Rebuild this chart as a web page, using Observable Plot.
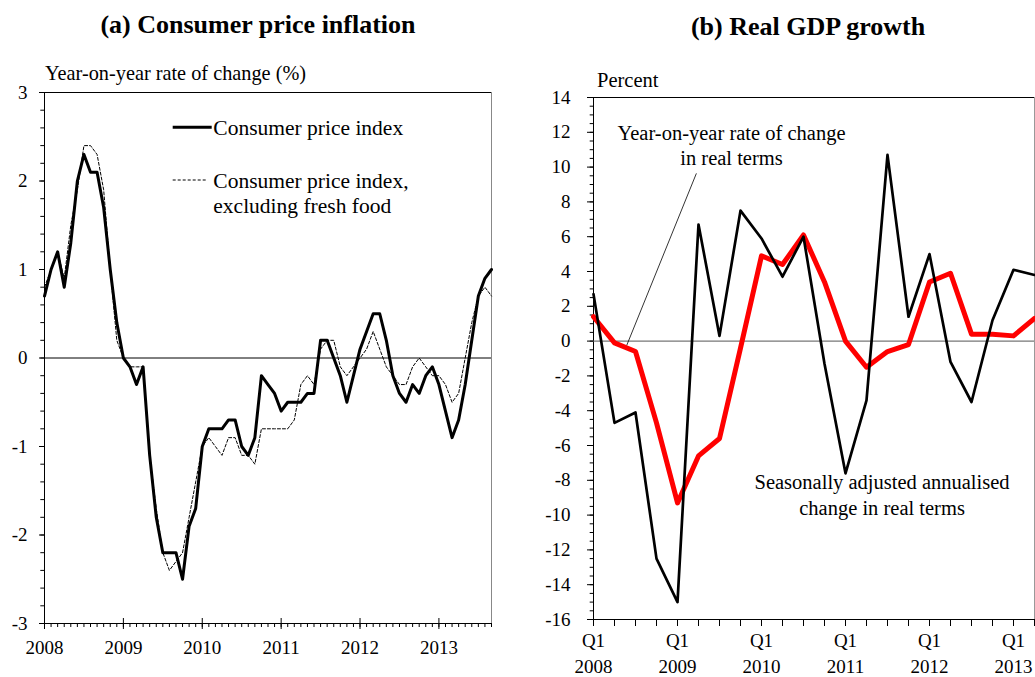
<!DOCTYPE html>
<html>
<head>
<meta charset="utf-8">
<script src="https://cdn.jsdelivr.net/npm/d3@7"></script>
<script src="https://cdn.jsdelivr.net/npm/@observablehq/plot@0.6"></script>
<style>
  body { margin: 0; background: #fff; }
  #wrap { position: relative; width: 1035px; height: 677px; overflow: hidden; background: #fff;
          font-family: "Liberation Serif", "Times New Roman", serif; color: #000; }
  .abs { position: absolute; white-space: nowrap; line-height: 1; }
  .title { font-weight: bold; font-size: 26px; transform: translate(-50%, -50%); }
  .unit { font-size: 20.3px; transform: translateY(-50%); }
  #pa { position: absolute; left: 0; top: 60px; }
  #pb { position: absolute; left: 530px; top: 60px; }
  #legend { position: absolute; left: 0; top: 0; pointer-events: none; }
</style>
</head>
<body>
<div id="wrap">
  <div class="abs title" style="left:258px; top:25px">(a) Consumer price inflation</div>
  <div class="abs title" style="left:808px; top:27px">(b) Real GDP growth</div>
  <div class="abs unit" style="left:45px; top:73px">Year-on-year rate of change (%)</div>
  <div class="abs unit" style="left:597px; top:80px; font-size:20.5px">Percent</div>
  <div id="pa"></div>
  <div id="pb"></div>
  <svg id="legend" width="1035" height="677" font-family="Liberation Serif" font-size="21.5"></svg>
</div>
<script>
// ---------- Panel (a): monthly CPI, Jan 2008 - Sep 2013 ----------
const yearLabels = ["2008", "2009", "2010", "2011", "2012", "2013"];
const cpi = [
  0.7, 1.0, 1.2, 0.8, 1.3, 2.0, 2.3, 2.1, 2.1, 1.7, 1.0, 0.4,
  0.0, -0.1, -0.3, -0.1, -1.1, -1.8, -2.2, -2.2, -2.2, -2.5, -1.9, -1.7,
  -1.0, -0.8, -0.8, -0.8, -0.7, -0.7, -1.0, -1.1, -0.9, -0.2, -0.3, -0.4,
  -0.6, -0.5, -0.5, -0.5, -0.4, -0.4, 0.2, 0.2, 0.0, -0.2, -0.5, -0.2,
  0.1, 0.3, 0.5, 0.5, 0.2, -0.2, -0.4, -0.5, -0.3, -0.4, -0.2, -0.1,
  -0.3, -0.6, -0.9, -0.7, -0.3, 0.2, 0.7, 0.9, 1.0
];
const coreCpi = [
  0.8, 1.0, 1.2, 0.9, 1.5, 1.9, 2.4, 2.4, 2.3, 1.9, 1.0, 0.2,
  0.0, -0.1, -0.1, -0.1, -1.1, -1.7, -2.2, -2.4, -2.3, -2.2, -1.8, -1.4,
  -1.0, -0.9, -1.0, -1.1, -0.9, -0.9, -1.1, -1.1, -1.2, -0.8, -0.8, -0.8,
  -0.8, -0.8, -0.7, -0.3, -0.2, -0.3, 0.1, 0.2, 0.2, -0.1, -0.2, -0.1,
  0.0, 0.1, 0.3, 0.1, -0.1, -0.2, -0.3, -0.3, -0.1, 0.0, -0.1, -0.2,
  -0.2, -0.3, -0.5, -0.4, 0.0, 0.4, 0.7, 0.8, 0.7
];
const legendA = [
  {label: ["Consumer price index"], dash: null, width: 3},
  {label: ["Consumer price index,", "excluding fresh food"], dash: "3,2", width: 1}
];

// ---------- Panel (b): quarterly real GDP, Q1 2008 - Q2 2013 ----------
const quarters = [
  "Q1 2008", "Q2 2008", "Q3 2008", "Q4 2008",
  "Q1 2009", "Q2 2009", "Q3 2009", "Q4 2009",
  "Q1 2010", "Q2 2010", "Q3 2010", "Q4 2010",
  "Q1 2011", "Q2 2011", "Q3 2011", "Q4 2011",
  "Q1 2012", "Q2 2012", "Q3 2012", "Q4 2012",
  "Q1 2013", "Q2 2013"
];
const gdpYoY = [1.4, -0.1, -0.6, -4.7, -9.3, -6.6, -5.6, -0.4, 4.9, 4.4, 6.1, 3.4,
                0.0, -1.5, -0.6, -0.2, 3.4, 3.9, 0.4, 0.4, 0.3, 1.3];
const gdpSAAR = [2.7, -4.7, -4.1, -12.5, -15.0, 6.7, 0.3, 7.5, 5.9, 3.7, 6.0, -1.3,
                 -7.6, -3.4, 10.7, 1.4, 5.0, -1.2, -3.5, 1.2, 4.1, 3.8];
const gdpNotes = [
  {x: 6.57, y: 11.3, text: "Year-on-year rate of change\nin real terms"},
  {x: 13.74, y: -8.77, text: "Seasonally adjusted annualised\nchange in real terms"}
];
const gdpLeader = [{x1: 4.9, y1: 9.64, x2: 1.58, y2: -0.25}];

const serif = "Liberation Serif";
const style = {fontFamily: serif, fontSize: "19px", color: "#000", background: "transparent", overflow: "visible"};

// ---- build panel (a)
const cpiRows = cpi.map((v, i) => ({i, v}));
const coreRows = coreCpi.map((v, i) => ({i, v}));
const nM = cpi.length - 1;
const yearTicks = yearLabels.map((_, k) => k * 12);
const monthTicks = d3.range(0, nM + 1);
const minorA = d3.range(0, 31).map(k => -3 + k * 0.2);

const pa = Plot.plot({
  width: 510, height: 617,
  marginLeft: 44, marginRight: 19, marginTop: 32, marginBottom: 54,
  style,
  x: {domain: [0, nM]},
  y: {domain: [-3, 3]},
  marks: [
    Plot.frame({stroke: "#000"}),
    Plot.ruleX([nM], {stroke: "#888", strokeWidth: 1}),
    Plot.ruleY([0], {stroke: "#000", strokeWidth: 1}),
    Plot.axisY({ticks: minorA, tickSize: 3.7, tickFormat: () => "", label: null}),
    Plot.axisY({ticks: [-3, -2, -1, 0, 1, 2, 3], tickSize: 5, tickPadding: 12, tickFormat: d => String(d), label: null, fontSize: 19}),
    Plot.axisX({ticks: monthTicks, tickSize: 4, tickFormat: () => "", label: null}),
    Plot.axisX({ticks: yearTicks, tickSize: -5, tickFormat: () => "", label: null}),
    Plot.axisX({ticks: yearTicks, tickSize: 6, tickPadding: 11, tickFormat: d => yearLabels[d / 12], label: null, fontSize: 19}),
    Plot.line(coreRows, {x: "i", y: "v", stroke: "#000", strokeWidth: 1, strokeDasharray: "3,2"}),
    Plot.line(cpiRows, {x: "i", y: "v", stroke: "#000", strokeWidth: 3})
  ]
});
document.getElementById("pa").appendChild(pa);

// ---- build panel (b)
const qRows = quarters.map((q, i) => ({i, yoy: gdpYoY[i], saar: gdpSAAR[i]}));
const q1Ticks = quarters.map((q, i) => q.startsWith("Q1") ? i : -1).filter(i => i >= 0);
const minorB = d3.range(0, 61).map(k => -16 + k * 0.5);

const pb = Plot.plot({
  width: 505, height: 617,
  marginLeft: 63, marginRight: 1, marginTop: 37, marginBottom: 58,
  style,
  x: {domain: [0, quarters.length - 1]},
  y: {domain: [-16, 14]},
  marks: [
    Plot.frame({stroke: "#000"}),
    Plot.ruleX([quarters.length - 1], {stroke: "#999", strokeWidth: 1}),
    Plot.ruleY([0], {stroke: "#555", strokeWidth: 1}),
    Plot.axisY({ticks: minorB, tickSize: 3.3, tickFormat: () => "", label: null}),
    Plot.axisY({ticks: d3.range(-16, 15, 2), tickSize: 6, tickPadding: 17, tickFormat: d => String(d), label: null, fontSize: 19}),
    Plot.axisX({ticks: d3.range(quarters.length), tickSize: 7, tickFormat: () => "", label: null}),
    Plot.axisX({ticks: q1Ticks, tickSize: 7, tickPadding: 7.4, tickFormat: i => quarters[i].split(" ")[0], label: null, fontSize: 19}),
    Plot.axisX({ticks: q1Ticks, tickSize: 0, tickPadding: 40.4, tickFormat: i => quarters[i].split(" ")[1], label: null, fontSize: 19}),
    Plot.link(gdpLeader, {x1: "x1", y1: "y1", x2: "x2", y2: "y2", stroke: "#000", strokeWidth: 0.8}),
    Plot.text(gdpNotes, {x: "x", y: "y", text: "text", lineHeight: 1.25, fontSize: 20.5, fill: "#000"}),
    Plot.line(qRows, {x: "i", y: "yoy", stroke: "#ff0000", strokeWidth: 5}),
    Plot.line(qRows, {x: "i", y: "saar", stroke: "#000", strokeWidth: 2.7})
  ]
});
document.getElementById("pb").appendChild(pb);

// ---- legend for panel (a)
const lg = d3.select("#legend");
const legX0 = 172.7, legX1 = [211.7, 206.7], legTextX = 213.3, legY = [127.3, 180], lineGap = 25;
legendA.forEach((item, k) => {
  lg.append("line").attr("x1", legX0).attr("x2", legX1[k]).attr("y1", legY[k]).attr("y2", legY[k])
    .attr("stroke", "#000").attr("stroke-width", item.width).attr("stroke-dasharray", item.dash);
  item.label.forEach((t, j) => {
    lg.append("text").attr("x", legTextX).attr("y", legY[k] + j * lineGap).attr("dy", "0.35em").text(t);
  });
});
</script>
</body>
</html>
